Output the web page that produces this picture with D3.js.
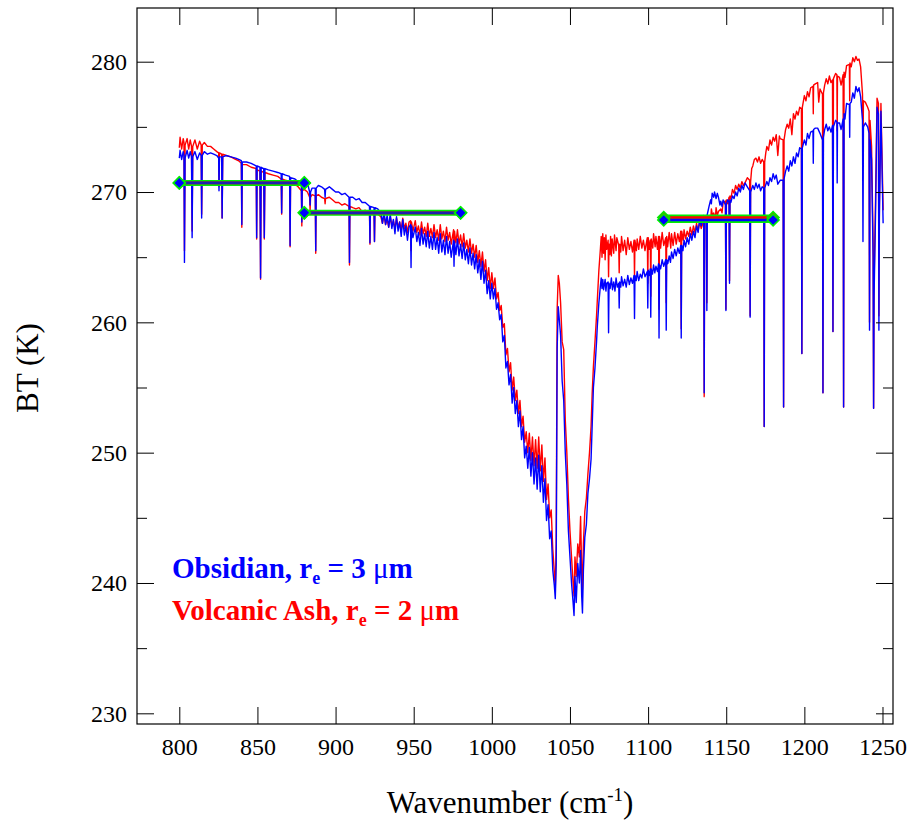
<!DOCTYPE html>
<html><head><meta charset="utf-8">
<script src="https://cdn.jsdelivr.net/npm/d3@7"></script>
<style>
body{margin:0;background:#fff}
svg{display:block}
text{font-family:"Liberation Serif","Times New Roman",serif;fill:#000}
</style>
</head><body><svg id="chart" width="909" height="820"></svg>
<script>
// ---------------- data ----------------
const xTicks = [800, 850, 900, 950, 1000, 1050, 1100, 1150, 1200, 1250];
const yMajorTicks = [230, 240, 250, 260, 270, 280];
const yMinorTicks = [235, 245, 255, 265, 275];
const windowStarts = [800, 880, 1110];
const windowEnds = [880, 980, 1180];
const obsidianMeans = [270.7, 268.4, 267.85];
const ashMeans = [270.7, 268.4, 268.05];
const seriesNames = ["Obsidian", "Volcanic Ash"];
const seriesRadii = ["3", "2"];

// Obsidian, r_e = 3 um  [wavenumber, BT]
const obsidian = [
[800.0,272.6],[800.5,273.2],[801.5,272.5],[802.5,273.1],[803.0,272.8],[803.3,264.6],[803.7,272.6],[805,273.2],[806,272.6],[807,273.1],[807.8,272.7],[808.2,266.5],[808.6,272.7],[810,273.1],[811.5,272.5],[813,273.0],[814.0,272.8],[814.3,268.0],[814.7,272.8],[816,273.1],[818,272.9],[820,273.0],[822,272.9],[824,272.8],[825.2,272.6],[825.4,270.1],[825.7,272.7],[827.1,272.7],[827.4,268.0],[827.8,272.7],[830,272.8],[833,272.7],[836,272.6],[838,272.5],[839.7,272.4],[840.0,267.5],[840.3,272.3],[843,272.3],[846,272.2],[849.2,272.0],[849.5,266.5],[849.8,272.0],[851.6,271.9],[852.0,263.4],[852.4,271.9],[854.0,271.8],[854.4,266.5],[854.8,271.8],[857,271.7],[860,271.6],[863,271.5],[865.2,271.4],[865.5,268.4],[865.8,271.4],[868,271.3],[870.6,271.2],[870.9,265.9],[871.2,271.1],[874,271.0],[876,270.8],[878.1,270.5],[878.4,267.7],[878.7,270.5],[880,270.6],[882,270.7],[883.4,270.0],[883.7,269.0],[884.0,270.0],[885,270.3],[887.0,270.3],[887.3,265.5],[887.6,270.3],[889,270.5],[891,270.4],[893.0,270.2],[893.3,269.6],[893.6,270.2],[896,270.4],[898,270.2],[900,270.0],[902,270.0],[904,269.8],[906,269.9],[908.6,269.6],[908.9,264.6],[909.2,269.6],[911,269.6],[913,269.4],[915,269.5],[917,269.2],[919,269.2],[921.7,268.9],[922.0,266.1],[922.3,268.9],[924.6,268.8],[924.9,266.2],[925.2,268.8],[927,268.7],
[929,268.4],[930,267.6],[931,268.5],[932,267.5],[933,268.2],[934,267.3],[935,268.3],[936,267.2],[937,267.9],[938,266.8],[939,268.1],[940,267.0],[941,267.7],[942,266.6],[943,267.9],[944,266.7],[945,267.4],[946,266.3],[947,267.3],[948.0,267.5],[948.3,264.2],[948.6,267.4],[949.5,266.5],[951,267.3],[952,266.2],[953,266.9],[954,265.9],[955,267.2],[956,266.0],[957,266.8],[958,265.8],[959,267.0],[960,265.7],[961,266.6],[962,265.6],[963,266.9],[964,265.6],[965,266.5],[966,265.3],[967,266.8],[968,265.4],[969,266.3],[970,265.2],[971,266.6],[972,265.3],[973,266.2],[974,265.0],[975.5,266.3],[975.8,264.3],[976.1,266.2],[977,265.2],[978,266.4],[979,265.1],[980,266.0],[981,264.9],[982,266.1],[983,264.8],[984,265.6],[985,264.5],[986,265.7],[987,264.4],[988,265.3],[989,264.1],[990,265.2],[991,263.8],[992,264.8],[993,263.3],[994,264.7],[995,263.0],[996,264.0],[997,262.2],[998,263.2],[999,261.8],[1000,263.0],
[1001,261.8],[1002,262.6],[1003,261.0],[1004,261.5],[1005,260.2],[1006,260.6],[1007,258.5],[1008,259.0],[1009,256.5],[1010,257.0],[1011,255.2],[1012,256.0],[1013,253.8],[1014,255.0],[1015,253.0],[1016,254.0],[1017,252.0],[1018,253.2],[1019,251.0],[1020,252.0],[1021,249.6],[1022,250.5],[1023,248.8],[1024,250.4],[1025,248.2],[1026,250.0],[1027,247.6],[1028,249.6],[1029,247.2],[1030,249.8],[1031,247.0],[1032,249.0],[1033,246.2],[1034,248.0],[1035,244.8],[1036,246.0],[1037,243.4],[1038,244.0],[1039,241.0],[1040,239.8],[1040.6,238.8],[1041.2,241.5],[1041.8,258.0],[1042.5,261.2],[1043.2,260.2],[1044.0,259.0],[1045,255.5],[1046,254.0],[1047,250.0],[1048,247.5],[1049,244.0],[1050,242.0],[1051,240.0],[1052,238.5],[1052.6,237.5],[1053.2,240.5],[1054,238.5],[1055,241.5],[1056,240.0],[1056.8,242.5],[1057.5,239.0],[1058,237.7],[1058.6,241.0],[1059.5,243.5],[1060.5,244.5],[1061.5,246.9],[1062.5,248.0],[1063.5,249.5],[1064.2,252.0],[1065,255.0],[1066,256.5],[1067,258.5],[1067.5,259.7],[1068.5,261.5],
[1069.4,262.7],[1070,263.4],[1070.5,262.6],[1071,263.3],[1071.5,262.5],[1072.5,263.3],[1073,262.4],[1073.5,263.0],[1074.4,263.1],[1074.7,259.2],[1075.0,263.0],[1075.7,262.6],[1076.5,263.4],[1077.2,262.5],[1078,263.1],[1078.8,262.4],[1079.5,263.4],[1080.3,262.7],[1081.2,263.0],[1081.5,261.1],[1081.8,263.1],[1082.5,262.7],[1083,263.5],[1084,262.8],[1085,263.3],[1086,262.7],[1087,263.6],[1088,262.9],[1089,263.4],[1090,263.0],[1091.0,263.6],[1091.3,260.3],[1091.6,263.6],[1092.4,263.2],[1093,263.9],[1094,263.2],[1095,263.7],[1096,263.4],[1097,264.1],[1098,263.5],[1099.5,263.9],[1099.8,261.1],[1100.1,264.0],[1100.8,263.6],[1101.4,264.1],[1101.7,260.4],[1102.0,264.1],[1102.8,263.7],[1103.5,264.4],[1104.3,263.8],[1105,264.3],[1106,263.9],[1106.7,264.5],[1107.0,258.8],[1107.3,264.4],[1108,264.1],[1109,264.8],[1110,264.3],[1111.3,264.8],[1111.6,259.4],[1111.9,264.8],[1112.6,264.5],[1113.5,265.1],[1114.3,264.6],[1115,265.4],[1116,264.9],[1117,265.6],[1118,265.1],[1119,265.7],[1120,265.3],[1120.9,265.9],[1121.2,258.8],[1121.5,265.9],[1122.3,265.5],[1123,266.3],[1124,265.8],[1125,266.5],[1126,266.0],[1127,266.8],[1128,266.3],[1129,267.0],[1130,266.5],[1131,267.4],[1132,266.9],[1133,267.9],[1134,267.4],[1135.6,268.2],
[1135.9,254.6],[1136.2,268.0],[1137.3,268.2],[1137.6,260.9],[1137.9,268.3],[1139,268.9],[1140,269.4],[1140.5,269.1],[1141,269.9],[1142,269.6],[1142.5,270.0],[1143.5,269.5],[1144.3,269.9],[1145,269.6],[1146,269.0],[1146.5,269.3],[1147.3,268.9],[1148,269.4],[1149.5,269.0],[1149.8,260.9],[1150.1,269.1],[1151,269.4],[1151.8,269.2],[1152.1,263.0],[1152.4,269.4],[1153,269.2],[1154,269.7],[1155,269.5],[1156,270.0],[1157,269.7],[1158,270.3],[1159,270.0],[1160,270.5],[1161,270.2],[1162,270.7],[1163.5,270.4],[1165.0,270.1],[1165.3,260.4],[1165.6,270.0],[1167,270.5],[1168,270.2],[1169,270.7],[1170,270.3],[1171,270.6],[1172,270.1],[1173,270.4],[1174.0,270.3],[1174.3,252.0],[1174.6,270.3],[1176,270.8],[1177,270.5],[1178,271.1],[1179,270.8],[1180,271.4],[1181,271.0],[1182,271.3],[1183,270.6],[1184.5,270.9],[1186.4,270.9],[1186.7,253.5],[1187.0,271.0],[1188,271.6],[1189,272.0],[1190,271.6],[1191,272.4],[1192,272.0],[1193,272.7],[1194,272.2],[1195,273.0],[1196,272.7],[1197,273.4],[1198.1,273.3],[1198.4,257.6],[1198.7,273.4],
[1200,274.0],[1201,273.6],[1202,274.5],[1203,274.1],[1204,274.6],[1205.5,274.7],[1205.7,272.2],[1205.9,274.8],[1207,274.9],[1208.5,274.9],[1210,274.5],[1211.6,274.0],[1211.9,254.6],[1212.2,274.2],[1213,274.8],[1214,275.2],[1215,274.7],[1216,275.0],[1217,274.6],[1218.0,275.1],[1218.3,259.3],[1218.6,275.0],[1220,275.5],[1220.8,275.4],[1221.0,270.7],[1221.2,275.3],[1222.5,275.3],[1223.5,274.8],[1224.8,275.6],[1225.1,253.5],[1225.4,276.0],[1226,275.6],[1227,276.8],[1228.8,276.7],[1229.0,274.2],[1229.2,276.8],[1230,276.9],[1231,277.6],[1232,277.2],[1233,278.1],[1234,277.7],[1235,278.0],[1236,277.3],[1237.2,275.5],[1237.5,266.2],[1237.8,275.0],[1239,275.3],[1240.5,275.0],[1241.4,274.5],[1241.7,259.4],[1242.0,274.0],[1243,272.5],[1244.0,265.0],[1244.3,253.4],[1244.6,262.0],[1245.5,268.0],[1246.5,276.5],[1247.4,276.0],[1247.7,259.4],[1248.0,268.0],[1249,276.2],[1250,270.0],[1250.4,267.6]
];

// Volcanic Ash, r_e = 2 um  [wavenumber, BT]
const ash = [
[800.0,273.4],[800.5,274.2],[801.5,273.3],[802.5,274.1],[803.0,273.8],[803.3,265.5],[803.7,273.6],[805,274.1],[806,273.3],[807,274.0],[807.8,273.5],[808.2,267.0],[808.6,273.5],[810,274.0],[811.5,273.3],[813,273.9],[814.0,273.6],[814.3,268.3],[814.7,273.6],[816,273.8],[818,273.5],[820,273.5],[822,273.3],[824,273.1],[825.2,273.0],[825.4,270.4],[825.7,273.0],[827.1,272.9],[827.4,268.0],[827.8,272.9],[830,272.8],[833,272.7],[836,272.5],[838,272.4],[839.7,272.2],[840.0,267.3],[840.3,272.1],[843,272.1],[846,271.9],[849.2,271.8],[849.5,266.4],[849.8,271.7],[851.6,271.6],[852.0,263.3],[852.4,271.6],[854.0,271.5],[854.4,266.4],[854.8,271.5],[857,271.4],[860,271.3],[863,271.2],[865.2,271.0],[865.5,268.3],[865.8,271.0],[868,270.9],[870.6,270.8],[870.9,265.8],[871.2,270.7],[874,270.6],[876,270.4],[878.1,270.1],[878.4,267.4],[878.7,270.1],[880,270.2],[882,270.0],[883.4,269.6],[883.7,268.6],[884.0,269.6],[885,269.8],[887.0,269.7],[887.3,265.3],[887.6,269.7],[889,269.8],[891,269.6],[893.0,269.5],[893.3,269.1],[893.6,269.5],[896,269.6],[898,269.4],[900,269.2],[902,269.2],[904,269.0],[906,269.1],[908.6,268.9],[908.9,264.4],[909.2,268.9],[911,268.8],[913,268.7],[915,268.8],[917,268.5],[919,268.6],[921.7,268.4],[922.0,266.0],[922.3,268.4],[924.6,268.3],[924.9,266.2],[925.2,268.3],[927,268.3],
[929,268.1],[930,267.6],[931,268.2],[932,267.5],[933,267.9],[934,267.3],[935,268.1],[936,267.4],[937,267.8],[938,267.2],[939,268.0],[940,267.3],[941,267.7],[942,267.1],[943,268.0],[944,267.2],[945,267.6],[946,266.9],[947,267.7],[948.0,267.8],[948.3,265.5],[948.6,267.7],[949.5,267.0],[951,267.8],[952,266.9],[953,267.4],[954,266.7],[955,267.7],[956,266.8],[957,267.3],[958,266.6],[959,267.6],[960,266.6],[961,267.2],[962,266.5],[963,267.5],[964,266.5],[965,267.1],[966,266.3],[967,267.5],[968,266.4],[969,267.0],[970,266.2],[971,267.3],[972,266.3],[973,266.9],[974,266.0],[975.5,267.1],[975.8,265.6],[976.1,267.0],[977,266.1],[978,267.1],[979,266.0],[980,266.7],[981,265.8],[982,266.8],[983,265.7],[984,266.3],[985,265.4],[986,266.4],[987,265.3],[988,266.0],[989,265.0],[990,265.9],[991,264.6],[992,265.5],[993,264.3],[994,265.4],[995,263.9],[996,264.8],[997,263.2],[998,264.2],[999,262.6],[1000,263.8],
[1001,262.6],[1002,263.4],[1003,261.8],[1004,262.3],[1005,260.9],[1006,261.3],[1007,259.6],[1008,259.9],[1009,257.5],[1010,258.0],[1011,256.2],[1012,256.9],[1013,254.8],[1014,255.8],[1015,254.0],[1016,254.8],[1017,253.0],[1018,254.0],[1019,252.0],[1020,252.8],[1021,250.8],[1022,251.6],[1023,250.0],[1024,251.5],[1025,249.4],[1026,251.2],[1027,249.0],[1028,251.0],[1029,248.8],[1030,251.2],[1031,248.6],[1032,250.6],[1033,247.8],[1034,249.6],[1035,246.4],[1036,247.6],[1037,245.0],[1038,245.6],[1039,242.6],[1040,240.8],[1040.6,239.5],[1041.2,243.0],[1041.8,261.0],[1042.5,263.6],[1043.2,263.0],[1044.0,261.5],[1045,258.5],[1046,257.9],[1047,252.5],[1048,250.0],[1049,246.5],[1050,244.0],[1051,242.0],[1052,240.0],[1052.6,239.0],[1053.2,242.0],[1054,240.5],[1055,243.0],[1056,242.0],[1056.8,245.1],[1057.5,241.0],[1058,239.5],[1058.6,243.0],[1059.5,245.5],[1060.5,246.5],[1061.5,248.4],[1062.5,250.0],[1063.5,252.0],[1064.2,254.5],[1065,256.6],[1066,258.5],[1067,260.5],[1067.5,261.7],[1068.5,264.0],
[1069.4,265.5],[1070,266.6],[1070.5,265.0],[1071,266.8],[1071.5,265.3],[1072,266.5],[1072.5,264.8],[1073,266.7],[1073.5,265.6],[1074.4,266.3],[1074.7,263.5],[1075.0,266.0],[1075.5,265.2],[1076,266.6],[1076.5,265.1],[1077,266.4],[1078,265.3],[1078.5,266.7],[1079.5,265.5],[1080,266.5],[1081.2,265.9],[1081.5,263.8],[1081.8,266.0],[1082.5,265.4],[1083,266.6],[1084,265.5],[1085,266.3],[1086,265.2],[1087,266.5],[1088,265.6],[1089,266.2],[1090,265.4],[1091.0,266.3],[1091.3,263.5],[1091.6,266.3],[1092.5,265.5],[1093,266.4],[1094,265.6],[1095,266.6],[1096,265.7],[1097,266.3],[1098,265.5],[1099.5,266.5],[1099.8,263.0],[1100.1,266.5],[1100.8,265.6],[1101.4,266.3],[1101.7,262.0],[1102.0,266.4],[1103,265.7],[1103.5,266.8],[1104.5,265.8],[1105,266.6],[1106,265.6],[1106.7,266.6],[1107.0,261.0],[1107.3,266.6],[1108,265.7],[1109,266.9],[1110,265.9],[1111.3,266.5],[1111.6,261.5],[1111.9,266.6],[1112.5,265.8],[1113.5,266.9],[1114.5,265.7],[1115,266.8],[1116,265.9],[1117,266.9],[1118,266.0],[1119,266.8],[1120,266.2],[1120.9,267.0],[1121.2,259.5],[1121.5,267.0],[1122.5,266.3],[1123,267.1],[1124,266.4],[1125,267.0],[1126,266.6],[1127,267.3],[1128,266.7],[1129,267.4],[1130,266.9],[1131,267.6],[1132,267.0],[1133,267.7],[1134,267.2],[1135.6,267.8],
[1135.9,254.3],[1136.2,267.8],[1137.3,267.8],[1137.6,261.5],[1137.9,267.9],[1139,268.2],[1140,267.8],[1140.5,268.7],[1141.3,268.1],[1142,268.4],[1143,267.9],[1143.5,268.8],[1144.3,268.2],[1145,268.5],[1146.5,268.7],[1147.3,268.4],[1148,269.2],[1149.5,269.3],[1149.8,261.0],[1150.1,269.4],[1151,269.1],[1151.8,269.6],[1152.1,263.2],[1152.4,269.7],[1153,269.5],[1154,270.2],[1155,269.9],[1156,270.5],[1157,270.2],[1158,270.6],[1159,270.3],[1160,270.8],[1161,270.5],[1162,270.7],[1163.5,271.1],[1165.0,270.9],[1165.3,260.5],[1165.6,270.8],[1166.3,271.8],[1167,272.0],[1168,272.5],[1169,272.6],[1170,272.3],[1171,272.7],[1172,272.2],[1173,272.5],[1174.0,272.3],[1174.3,252.0],[1174.6,272.3],[1175.3,273.0],[1176,273.5],[1177,273.2],[1178,274.0],[1179,273.6],[1180,274.2],[1181,273.9],[1182,274.4],[1183,272.8],[1184,274.3],[1184.5,274.1],[1186.4,274.0],[1186.7,253.5],[1187.0,274.0],[1188,274.8],[1189,275.2],[1190,274.9],[1191,275.6],[1192,274.4],[1193,276.0],[1194,275.6],[1195,276.2],[1196,275.9],[1197,276.5],[1198.1,276.4],[1198.4,257.6],[1198.7,276.5],
[1200,277.4],[1201,277.0],[1202,277.7],[1203,277.3],[1204,278.0],[1205.5,278.1],[1205.7,276.0],[1205.9,278.2],[1207,278.3],[1208.5,278.4],[1209.2,276.9],[1210,277.9],[1211.6,277.5],[1211.9,254.6],[1212.2,277.6],[1213,278.2],[1214,278.7],[1215,278.3],[1216,278.9],[1217,278.4],[1218.0,278.6],[1218.3,259.3],[1218.6,278.7],[1220,279.1],[1220.8,279.0],[1221.0,274.7],[1221.2,278.9],[1222.5,278.8],[1223.5,278.2],[1224.8,279.0],[1225.1,253.5],[1225.4,279.2],[1226,278.8],[1227,279.7],[1228.8,279.8],[1229.0,277.0],[1229.2,279.9],[1230,279.6],[1231,280.3],[1232,280.0],[1233,280.4],[1234,280.1],[1235,280.2],[1236,279.6],[1237.2,277.5],[1237.5,273.0],[1237.8,277.0],[1239,276.9],[1240.5,276.5],[1241.4,276.2],[1241.7,260.0],[1242.0,275.5],[1243,273.5],[1244.0,266.0],[1244.3,253.4],[1244.6,263.0],[1245.5,269.0],[1246.5,277.2],[1247.4,276.8],[1247.7,260.5],[1248.0,269.0],[1249,276.8],[1250,271.0],[1250.4,268.6]
];

// ---------------- layout ----------------
const svg = d3.select("#chart");
const L = 137, R = 893, T = 8, B = 724;
const x = d3.scaleLinear().domain([772.93, 1256.72]).range([L, R]);
const y = d3.scaleLinear().domain([229.18, 284.12]).range([B, T]);
const serif = '"Liberation Serif","Times New Roman",serif';

svg.append("defs").append("clipPath").attr("id", "clip")
  .append("rect").attr("x", L).attr("y", T).attr("width", R - L).attr("height", B - T);

const plot = svg.append("g").attr("clip-path", "url(#clip)");
const line = d3.line().x(d => x(d[0])).y(d => y(d[1]));

plot.append("path").datum(ash).attr("d", line)
  .attr("fill", "none").attr("stroke", "#ff0000").attr("stroke-width", 1.4).attr("stroke-linejoin", "round");
plot.append("path").datum(obsidian).attr("d", line)
  .attr("fill", "none").attr("stroke", "#0000ff").attr("stroke-width", 1.4).attr("stroke-linejoin", "round");

// window mean bars
const green = "#00ee00";
const winIdx = d3.range(windowStarts.length);
const bars = plot.append("g");
winIdx.forEach(i => {
  const yA = y(ashMeans[i]), yO = y(obsidianMeans[i]);
  const yTop = Math.min(yA, yO), yBot = Math.max(yA, yO);
  bars.append("line").attr("x1", x(windowStarts[i])).attr("x2", x(windowEnds[i]))
    .attr("y1", (yTop + yBot) / 2).attr("y2", (yTop + yBot) / 2)
    .attr("stroke", green).attr("stroke-width", 6 + (yBot - yTop));
  bars.append("line").attr("x1", x(windowStarts[i])).attr("x2", x(windowEnds[i]))
    .attr("y1", yA).attr("y2", yA).attr("stroke", "#ff0000").attr("stroke-width", 2.6);
  bars.append("line").attr("x1", x(windowStarts[i])).attr("x2", x(windowEnds[i]))
    .attr("y1", yO).attr("y2", yO).attr("stroke", yA === yO ? "#2020b0" : "#0000ff").attr("stroke-width", 2.6);
});
const diamond = d3.symbol().type(d3.symbolSquare).size(70);
winIdx.forEach(i => {
  [windowStarts[i], windowEnds[i]].forEach(w => {
    bars.append("path").attr("d", diamond)
      .attr("transform", `translate(${x(w)},${y(ashMeans[i])}) rotate(45)`)
      .attr("fill", "#ff0000").attr("stroke", green).attr("stroke-width", 1.6);
  });
});
winIdx.forEach(i => {
  [windowStarts[i], windowEnds[i]].forEach(w => {
    bars.append("path").attr("d", diamond)
      .attr("transform", `translate(${x(w)},${y(obsidianMeans[i])}) rotate(45)`)
      .attr("fill", "#0000ff").attr("stroke", green).attr("stroke-width", 1.6);
  });
});

// ---------------- axes ----------------
function styleAxis(g) {
  g.attr("font-family", serif);
  g.select(".domain").remove();
  g.selectAll(".tick line").attr("stroke", "#000").attr("stroke-width", 1);
}
svg.append("g").attr("transform", `translate(0,${B})`)
  .call(d3.axisBottom(x).tickValues(xTicks).tickSize(-17).tickPadding(14).tickFormat(d3.format("d")))
  .call(styleAxis)
  .selectAll("text").attr("font-size", 24).style("font-family", serif);
svg.append("g").attr("transform", `translate(0,${T})`)
  .call(d3.axisTop(x).tickValues(xTicks).tickSize(-17).tickFormat(""))
  .call(styleAxis);
svg.append("g").attr("transform", `translate(${L},0)`)
  .call(d3.axisLeft(y).tickValues(yMajorTicks).tickSize(-17).tickPadding(10).tickFormat(d3.format("d")))
  .call(styleAxis)
  .selectAll("text").attr("font-size", 24).style("font-family", serif);
svg.append("g").attr("transform", `translate(${L},0)`)
  .call(d3.axisLeft(y).tickValues(yMinorTicks).tickSize(-10).tickFormat(""))
  .call(styleAxis);
svg.append("g").attr("transform", `translate(${R},0)`)
  .call(d3.axisRight(y).tickValues(yMajorTicks).tickSize(-17).tickFormat(""))
  .call(styleAxis);
svg.append("g").attr("transform", `translate(${R},0)`)
  .call(d3.axisRight(y).tickValues(yMinorTicks).tickSize(-10).tickFormat(""))
  .call(styleAxis);

svg.append("rect").attr("x", L).attr("y", T).attr("width", R - L).attr("height", B - T)
  .attr("fill", "none").attr("stroke", "#000").attr("stroke-width", 1.2);

// axis titles
const xt = svg.append("text").attr("x", 510).attr("y", 813).attr("text-anchor", "middle")
  .attr("font-size", 31);
xt.append("tspan").text("Wavenumber (cm");
xt.append("tspan").attr("font-size", 19).attr("dy", -12).text("-1");
xt.append("tspan").attr("dy", 12).text(")");

svg.append("text").attr("transform", "translate(38,368) rotate(-90)")
  .attr("text-anchor", "middle").attr("font-size", 31).text("BT (K)");

// legend
const legendColors = ["#0000ff", "#ff0000"];
const legendY = [578, 620];
seriesNames.forEach((name, i) => {
  const t = svg.append("text").attr("x", 172).attr("y", legendY[i])
    .attr("font-size", 29).attr("font-weight", "bold").style("fill", legendColors[i]);
  t.append("tspan").text(name + ", r");
  t.append("tspan").attr("font-size", 18).attr("dy", 6).text("e");
  t.append("tspan").attr("dy", -6).text(" = " + seriesRadii[i] + " ");
  t.append("tspan").attr("font-weight", "normal").text("\u03bc");
  t.append("tspan").text("m");
});
</script>
</body></html>
